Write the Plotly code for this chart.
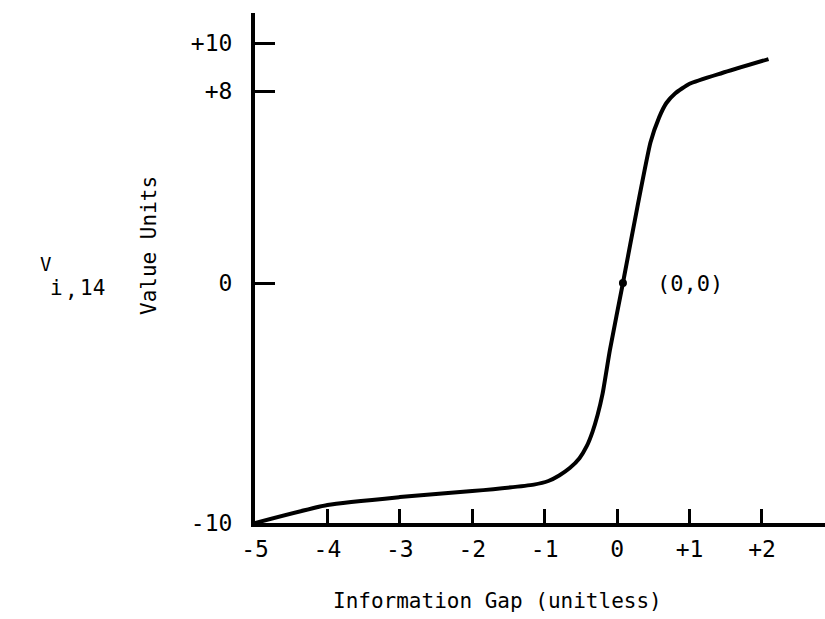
import plotly.graph_objects as go

# Curve (Information Gap, Value Units)
gap = [-5.0, -4.0, -3.0, -2.0, -1.15, -0.95, -0.8, -0.65, -0.52, -0.42, -0.34,
       -0.27, -0.2, -0.1, 0.08, 0.28, 0.46, 0.58, 0.68, 0.8, 1.0, 1.45, 2.09]
value = [-10.0, -9.25, -8.92, -8.67, -8.4, -8.25, -8.02, -7.7, -7.3, -6.8, -6.2,
         -5.5, -4.6, -2.8, 0.0, 3.17, 5.85, 6.9, 7.5, 7.9, 8.3, 8.75, 9.33]

origin_x = [0.08]
origin_y = [0.0]
origin_label = "(0,0)"

x_ticks = [-5, -4, -3, -2, -1, 0, 1, 2]
x_tick_text = ["-5", "-4", "-3", "-2", "-1", "0", "+1", "+2"]
y_ticks = [-10, 0, 8, 10]
y_tick_text = ["-10", "0", "+8", "+10"]

FONT = "DejaVu Sans Mono"

fig = go.Figure()
fig.add_trace(go.Scatter(x=gap, y=value, mode="lines",
                         line=dict(color="black", width=4, shape="spline", smoothing=0.5),
                         hoverinfo="skip", showlegend=False))
fig.add_trace(go.Scatter(x=origin_x, y=origin_y, mode="markers",
                         marker=dict(color="black", size=8), showlegend=False))

fig.update_layout(
    width=825, height=619,
    margin=dict(l=255, r=0, t=13, b=96),
    paper_bgcolor="white", plot_bgcolor="white",
    font=dict(family=FONT, color="black", size=22),
    showlegend=False,
    xaxis=dict(range=[-5, 2.87], showgrid=False, zeroline=False,
               showline=True, linecolor="black", linewidth=4,
               ticks="inside", ticklen=14, tickwidth=3, tickcolor="black",
               tickvals=x_ticks, ticktext=x_tick_text, ticklabelstandoff=2,
               tickfont=dict(family=FONT, size=23)),
    yaxis=dict(range=[-10, 11.25], showgrid=False, zeroline=False,
               showline=True, linecolor="black", linewidth=4,
               ticks="inside", ticklen=20, tickwidth=3, tickcolor="black",
               tickvals=y_ticks, ticktext=y_tick_text, ticklabelstandoff=14,
               tickfont=dict(family=FONT, size=23)),
)

def px(x):
    return (x - 255) / 570.0

def py(y):
    return (523 - y) / 510.0

fig.add_annotation(x=0.52, y=0, xref="x", yref="y", text=origin_label,
                   showarrow=False, xanchor="left", yanchor="middle",
                   font=dict(family=FONT, size=22))
fig.add_annotation(x=px(497), y=py(601), xref="paper", yref="paper",
                   text="Information Gap (unitless)", showarrow=False,
                   xanchor="center", yanchor="middle",
                   font=dict(family=FONT, size=21))
fig.add_annotation(x=px(149), y=py(246), xref="paper", yref="paper",
                   text="Value Units", showarrow=False, textangle=-90,
                   xanchor="center", yanchor="middle",
                   font=dict(family=FONT, size=21))
# V with subscript "i , 14"
for label, cx, cy, size in [("V", 45, 264, 19), ("i", 56, 288, 21),
                            (",", 71, 290, 21), ("14", 92, 288, 21)]:
    fig.add_annotation(x=px(cx), y=py(cy), xref="paper", yref="paper",
                       text=label, showarrow=False, xanchor="center", yanchor="middle",
                       font=dict(family=FONT, size=size))

fig.write_html("out.html")
